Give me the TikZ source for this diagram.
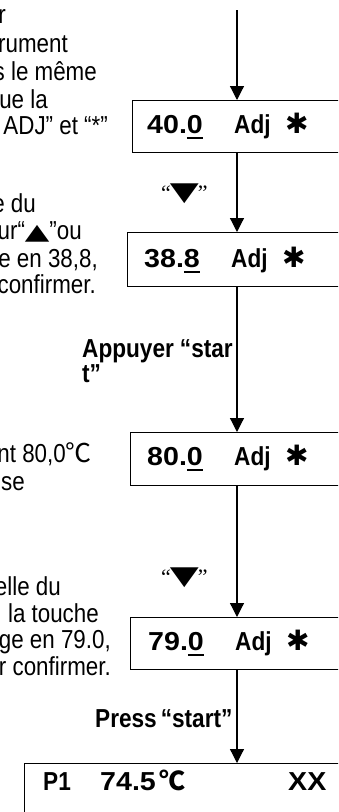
\documentclass[tikz,border=0pt]{standalone}
\usepackage{fontspec}
\usetikzlibrary{arrows.meta}
\setmainfont[FakeStretch=0.86]{Liberation Sans}
\newfontfamily\labfont[FakeStretch=0.87]{Liberation Sans}
\newfontfamily\digfont[FakeStretch=1.1]{Liberation Sans}
\newfontfamily\symfont{DejaVu Sans}
\newfontfamily\trifont[FakeStretch=1.45]{DejaVu Sans}
\newfontfamily\quotefont{Liberation Serif}
\newfontfamily\cjkfont{Noto Sans CJK SC}

% underlined digit of the display value
\newcommand{\ulnum}[1]{\setbox0\hbox{#1}\rlap{\rule[-5.8pt]{\wd0}{1.6pt}}\box0}
\newcommand{\degC}{{\cjkfont ℃}}
\newcommand{\heavystar}{{\symfont\bfseries\fontsize{28}{28}\selectfont ✱}}
% display line: integer part, underlined decimal, "Adj" and the star
\newcommand{\adjline}[2]{\makebox[87pt][l]{\digfont #1.\ulnum{#2}}\makebox[51pt][l]{Adj}\heavystar}
% arrow key symbol between quotes
\newcommand{\downkey}{{\quotefont\fontsize{22}{22}\selectfont “}\kern-1pt{\trifont\fontsize{26}{26}\selectfont ▼}\kern-1pt{\quotefont\fontsize{22}{22}\selectfont ”}}

\tikzset{
  box/.style={draw, line width=1.3pt, minimum width=330pt, inner sep=0pt, anchor=north west},
  flow/.style={line width=1.2pt, -{Triangle[width=14pt,length=14pt]}},
  body/.style={anchor=base east, inner sep=0pt, font=\fontsize{26}{30}\selectfont},
  lab/.style={anchor=base west, inner sep=0pt, font=\labfont\bfseries\fontsize{26}{30}\selectfont},
  keylab/.style={anchor=base west, inner sep=0pt},
}

\begin{document}
\begin{tikzpicture}[x=1pt, y=-1pt]
\useasboundingbox (0,0) rectangle (338,812);
\clip (0,0) rectangle (338,812);
\fill[white] (0,0) rectangle (338,812);

% explanatory text on the left
\node[body] (l1) at (6,23) {r};
\node[body] (l2) at (68,52) {rument};
\node[body] (l3) at (97,80) {s le même};
\node[body] (l4) at (48,108) {ue la};
\node[body] (l5) at (108,134) {ADJ” et “*”};

\node[body] (m1) at (36,212) {e du};
\node[body] (m2) at (82,239) {ur“{\trifont\fontsize{22}{22}\selectfont ▲}”ou};
\node[body] (m3) at (98,267) {e en 38,8,};
\node[body] (m4) at (96,293) {confirmer.};

\node[body] (n1) at (92,462) {int 80,0\degC};
\node[body] (n2) at (25,490) {se};

\node[body] (p1) at (61,595) {elle du};
\node[body] (p2) at (99,622) {la touche};
\node[body] (p3) at (111,648) {ge en 79.0,};
\node[body] (p4) at (111,675) {r confirmer.};

% display boxes
\node[box, minimum height=52pt] (b1) at (132,100) {};
\node[box, minimum height=54pt] (b2) at (127,232) {};
\node[box, minimum height=53pt] (b3) at (130,432) {};
\node[box, minimum height=52pt] (b4) at (130,617) {};
\node[box, minimum height=80pt] (b5) at (24,763) {};

\node[lab] (v1) at (147,133) {\adjline{40}{0}};
\node[lab] (v2) at (144,267) {\adjline{38}{8}};
\node[lab] (v3) at (147,465) {\adjline{80}{0}};
\node[lab] (v4) at (148,650) {\adjline{79}{0}};
\node[lab] (v5) at (43,790) {\makebox[57pt][l]{P1}\makebox[59pt][l]{\digfont 74.5}\makebox[129pt][l]{\degC}{\digfont XX}};

% flow connectors
\coordinate (top) at (237,10);
\draw[flow] (top) -- (top |- b1.north);
\draw[flow] (top |- b1.south) -- (top |- b2.north);
\draw[flow] (top |- b2.south) -- (top |- b3.north);
\draw[flow] (top |- b3.south) -- (top |- b4.north);
\draw[flow] (top |- b4.south) -- (top |- b5.north);

% key labels beside the connectors
\node[keylab] (k1) at (161,200) {\downkey};
\node[keylab] (k2) at (161,584) {\downkey};
\node[lab] (s1) at (82,357) {Appuyer\hspace{6pt}“star};
\node[lab] (s2) at (82,382) {t”};
\node[lab] (s3) at (95,727) {Press\hspace{4pt}“start”};
\end{tikzpicture}
\end{document}
